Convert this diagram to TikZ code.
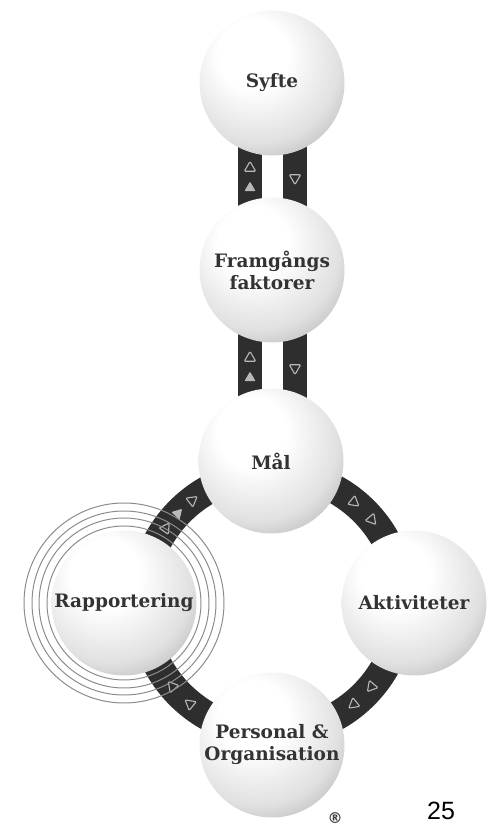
\documentclass[tikz,border=0pt]{standalone}
\usepackage{fontspec}
\newfontfamily\labelfont{DejaVu Serif}
\newfontfamily\numfont{Liberation Sans}
\newfontfamily\symfont{DejaVu Sans}
\usetikzlibrary{calc,backgrounds}
\pgfdeclareradialshading{sph}{\pgfpoint{-8bp}{12bp}}{color(0bp)=(white); color(12bp)=(white); color(28bp)=(black!12); color(42bp)=(black!36); color(54bp)=(black!60); color(70bp)=(black!66)}
\begin{document}
\begin{tikzpicture}[x=1pt,y=1pt,
  ball/.style={circle, minimum size=145pt, inner sep=0pt, shade, shading=sph, align=center, text=black!80, font=\labelfont\bfseries\fontsize{18.5}{22}\selectfont},
  vband/.style={line width=24pt, draw=black!82},
  dband/.style={line width=29pt, draw=black!82},
  ringline/.style={draw=black!45, line width=1pt},
  tri/.pic={\draw[black!28, line width=1.1pt, rounded corners=1pt] (0:6.5) -- (120:6.5) -- (240:6.5) -- cycle;},
  trifill/.pic={\fill[black!28, rounded corners=1pt] (0:6.5) -- (120:6.5) -- (240:6.5) -- cycle;}
]
\useasboundingbox (0,0) rectangle (497,826);

% spheres
\node[ball] (syfte) at (272,743) {Syfte};
\node[ball] (fram) at (272,556) {Framgångs\\faktorer};
\node[ball] (mal) at (271,365) {Mål};
\node[ball] (rap) at (124,223) {Rapportering};
\node[ball] (akt) at (414,223) {Aktiviteter};
\node[ball] (pers) at (272,81) {Personal \&\\Organisation};

% ring of the cycle
\coordinate (ringc) at (272,223);
\coordinate (malr) at ($(ringc)+(90:130)$);
\coordinate (aktr) at ($(ringc)+(0:130)$);
\coordinate (persr) at ($(ringc)+(-90:130)$);
\coordinate (rapr) at ($(ringc)+(180:130)$);

\begin{scope}[on background layer]
  \draw[vband] ($(syfte.center)+(-22,0)$) -- ($(fram.center)+(-22,0)$);
  \draw[vband] ($(syfte.center)+(23,0)$) -- ($(fram.center)+(23,0)$);
  \draw[vband] ($(fram.center)+(-22,0)$) -- ($(mal.center)+(-21,0)$);
  \draw[vband] ($(fram.center)+(23,0)$) -- ($(mal.center)+(24,0)$);
  \draw[dband] (malr) arc[start angle=90, end angle=0, radius=130];
  \draw[dband] (aktr) arc[start angle=0, end angle=-90, radius=130];
  \draw[dband] (persr) arc[start angle=-90, end angle=-180, radius=130];
  \draw[dband] (rapr) arc[start angle=180, end angle=90, radius=130];
\end{scope}

% triangles on vertical bands
\pic[rotate=90] at (250,658) {tri};
\pic[rotate=90] at (250,638) {trifill};
\pic[rotate=-90] at (295,648) {tri};
\pic[rotate=90] at (250,468) {tri};
\pic[rotate=90] at (250,448) {trifill};
\pic[rotate=-90] at (295,458) {tri};

% triangles on the cycle (clockwise)
\pic[rotate=51-90] at ($(ringc)+(51:130)$) {tri};
\pic[rotate=40-90] at ($(ringc)+(40:130)$) {tri};
\pic[rotate=-40-90] at ($(ringc)+(-40:130)$) {tri};
\pic[rotate=-51-90] at ($(ringc)+(-51:130)$) {tri};
\pic[rotate=-129-90] at ($(ringc)+(-129:130)$) {tri};
\pic[rotate=-140-90] at ($(ringc)+(-140:130)$) {tri};
\pic[rotate=145-90] at ($(ringc)+(145:130)$) {tri};
\pic[rotate=136.5-90] at ($(ringc)+(136.5:130)$) {trifill};
\pic[rotate=128-90] at ($(ringc)+(128:130)$) {tri};

% rings around Rapportering
\foreach \r in {77,85,92,100} \draw[ringline] (rap.center) circle[radius=\r];

\node[font=\symfont\bfseries\fontsize{15}{15}\selectfont, text=black!75] (reg) at (335,8) {®};
\node[font=\numfont\fontsize{25}{25}\selectfont, anchor=base] (num) at (441,6) {25};
\end{tikzpicture}
\end{document}
